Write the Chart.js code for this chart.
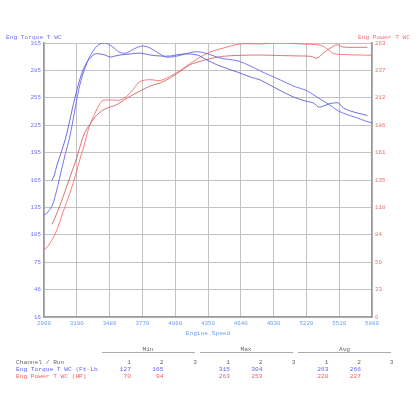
<!DOCTYPE html>
<html><head><meta charset="utf-8">
<script src="https://cdn.jsdelivr.net/npm/chart.js"></script>
<style>
html,body{margin:0;padding:0;background:#fff;}
#wrap{position:relative;width:416px;height:416px;overflow:hidden;background:#fff;}
#c{position:absolute;left:0;top:0;}
.t{position:absolute;font-family:"Liberation Mono",monospace;font-size:6.2px;line-height:7px;white-space:pre;}
.ln{position:absolute;height:0;border-top:1.5px solid #aaaaaa;}
</style></head>
<body><div id="wrap"><canvas id="c" width="416" height="416"></canvas></div>
<script>
// ---- data ----
const rpm1 = [2900,2935,2971,3006,3042,3086,3121,3157,3192,3228,3263,3298,3334,3369,3405,3440,3476,3520,3573,3626,3679,3732,3777,3839,3909,3980,4078,4149,4219,4281,4352,4458,4618,4724,4813,4901,4990,5105,5229,5326,5415,5503,5592,5672,5742,5800];
const torque1 = [127,130.6,137.1,151.3,169.9,192.8,209.1,231,255,274.6,287.7,298.6,306.3,311.7,314.4,315,313.4,309.5,304.6,304.1,307.4,310.6,311.7,309.5,304.1,299.7,300.8,303,305.2,305.2,303,298.6,295.3,289.9,284.4,279.5,274.6,268.1,262.6,255,248.4,240.8,236.4,233.1,229.9,227.7];
const rpm2 = [2970,2989,3015,3059,3086,3113,3148,3175,3210,3245,3281,3316,3352,3396,3440,3484,3529,3573,3662,3750,3839,3927,4016,4131,4255,4326,4432,4609,4724,4813,4946,5105,5211,5282,5326,5370,5415,5459,5503,5548,5610,5672,5760];
const torque2 = [165,169.9,181.9,198.2,209.1,222.2,241.9,256.1,272.4,285.5,294.3,299.7,303,303,301.9,299.7,300.8,301.9,303,304,301.9,300.8,300.8,303,301.9,297.5,291,283.3,277.9,274.6,265.9,256.1,251.7,249.5,245.2,246.2,248.4,249.5,249.5,244.1,240.8,238.6,235.9];
const prpm1 = [2900,2935,2980,3024,3068,3130,3192,3228,3254,3290,3316,3352,3387,3422,3467,3520,3573,3635,3697,3750,3839,3927,4016,4104,4193,4281,4370,4485,4636,4813,4990,5167,5344,5406,5459,5583,5698,5800];
const power1 = [70,73.6,81.1,91.4,105.3,123.1,144.5,158.5,166.9,181.8,189.3,197.7,205.2,209.4,209.8,209.8,209.8,213.6,221,227.1,228.8,228,231.9,237.3,243.9,249.9,254.6,258.3,262.1,262.1,263,262.1,260.9,257.4,253.2,252.1,251.8,251.5];
const prpm2 = [2971,3015,3068,3130,3192,3228,3263,3307,3343,3387,3431,3484,3546,3635,3750,3839,3927,4016,4104,4193,4281,4370,4485,4636,4813,4990,5167,5255,5317,5370,5432,5494,5539,5636,5760];
const power2 = [94,104.4,119.3,138,156.7,169.7,180,187.4,193,197.7,201,203.3,205.6,211.7,218.2,222.9,225.7,230.4,236.6,242.8,245.9,248.4,250.6,251.5,251.8,251.3,250.9,250.6,249,253.7,258.3,261.4,259.3,259,259];

const rpmTicks = ['2900','3190','3480','3770','4060','4350','4640','4930','5220','5510','5800'];
const torqueTicks = ['16','46','75','105','135','165','195','225','255','285','315'];
const powerTicks = ['0','33','59','84','110','135','161','186','212','237','263'];

const channelHeader = ['Channel / Run','1','2','3'];
const groups = ['Min','Max','Avg'];
const rowNames = ['Eng Torque T WC (Ft-Lb','Eng Power T WC (HP)'];
const torqueStats = {min:['127','165',''], max:['315','304',''], avg:['263','266','']};
const powerStats = {min:['70','94',''], max:['263','253',''], avg:['220','227','']};

const leftTitle = 'Eng Torque T WC';
const rightTitle = 'Eng Power T WC';
const xTitle = 'Engine Speed';

// ---- styles ----
const FONT = "'Liberation Mono', 'DejaVu Sans Mono', monospace";
const BLUE_TXT = '#6f6ff2';
const RED_TXT = '#f26f6f';
const XTXT = '#6a9ef2';
const GRID = '#c2c2c2';

const zip = (xs, ys) => xs.map((x, i) => ({x: x, y: ys[i]}));
const lineDs = (d, axis, color) => ({data: d, yAxisID: axis, borderColor: color, borderWidth: 1, pointRadius: 0, tension: 0.35, fill: false});

const titlesPlugin = {
  id: 'titles',
  afterDraw(chart) {
    const c = chart.ctx;
    c.save();
    c.font = '6.2px ' + FONT;
    c.textBaseline = 'middle';
    c.fillStyle = BLUE_TXT; c.textAlign = 'left';
    c.fillText(leftTitle, 6, 37);
    c.fillStyle = RED_TXT; c.textAlign = 'right';
    c.fillText(rightTitle, 410, 37);
    c.restore();
  }
};

function evenTicks(scale) {
  const n = 10, out = [];
  for (let i = 0; i <= n; i++) out.push({value: scale.min + (scale.max - scale.min) * i / n});
  scale.ticks = out;
}

new Chart(document.getElementById('c'), {
  type: 'line',
  data: {datasets: [
    lineDs(zip(rpm1, torque1), 'y', 'rgba(95,95,250,0.85)'),
    lineDs(zip(rpm2, torque2), 'y', 'rgba(85,85,215,0.85)'),
    lineDs(zip(prpm1, power1), 'y2', 'rgba(250,95,95,0.8)'),
    lineDs(zip(prpm2, power2), 'y2', 'rgba(205,85,85,0.8)')
  ]},
  options: {
    responsive: false, animation: false,
    layout: {padding: {left: 0, right: 0, top: 43, bottom: 79}},
    plugins: {legend: {display: false}, tooltip: {enabled: false}},
    scales: {
      x: {
        type: 'linear', min: 2900, max: 5800,
        afterBuildTicks: evenTicks,
        ticks: {callback: (v, i) => rpmTicks[i], color: XTXT, font: {family: FONT, size: 5.8}, padding: 3, maxRotation: 0, autoSkip: false},
        grid: {color: GRID, drawTicks: false, lineWidth: 1},
        border: {color: '#9a9a9a', width: 1.5},
        title: {display: true, text: xTitle, color: XTXT, font: {family: FONT, size: 6.2}, padding: {top: 1, bottom: 0}},
        afterFit(s) { s.height = 20; }
      },
      y: {
        type: 'linear', position: 'left', min: 16, max: 315,
        afterBuildTicks: evenTicks,
        ticks: {callback: (v, i) => torqueTicks[i], color: BLUE_TXT, font: {family: FONT, size: 5.8}, padding: 3},
        grid: {color: GRID, drawTicks: false, lineWidth: 1},
        border: {color: '#9a9a9a', width: 1.5},
        afterFit(s) { s.width = 44; }
      },
      y2: {
        type: 'linear', position: 'right', min: 7.4, max: 263,
        afterBuildTicks: evenTicks,
        ticks: {callback: (v, i) => powerTicks[i], color: RED_TXT, font: {family: FONT, size: 5.8}, padding: 3},
        grid: {drawOnChartArea: false, drawTicks: false},
        border: {color: '#9a9a9a', width: 1.5},
        afterFit(s) { s.width = 44; }
      }
    }
  },
  plugins: [titlesPlugin]
});

// ---- stats table ----
const wrap = document.getElementById('wrap');
function txt(s, x, y, color, align, w) {
  const d = document.createElement('div');
  d.className = 't';
  d.textContent = s;
  d.style.color = color;
  d.style.top = (y - 3.5) + 'px';
  if (align === 'right') { d.style.left = (x - 60) + 'px'; d.style.width = '60px'; d.style.textAlign = 'right'; }
  else if (align === 'center') { d.style.left = (x - w / 2) + 'px'; d.style.width = w + 'px'; d.style.textAlign = 'center'; }
  else { d.style.left = x + 'px'; }
  wrap.appendChild(d);
}
const groupLines = [[101.5, 194.5], [199.5, 292.5], [298, 391]];
const colRight = [[131, 163.5, 197], [230, 262.5, 295.5], [328.5, 361, 393.5]];
groups.forEach((g, i) => {
  const [a, b] = groupLines[i];
  txt(g, (a + b) / 2, 349.5, '#666666', 'center', 40);
  const l = document.createElement('div');
  l.className = 'ln';
  l.style.left = a + 'px'; l.style.width = (b - a) + 'px'; l.style.top = '351.5px';
  wrap.appendChild(l);
});
txt(channelHeader[0], 16, 362, '#666666', 'left');
colRight.forEach(cols => cols.forEach((x, j) => txt(channelHeader[j + 1], x, 362, '#666666', 'right')));
const rows = [[rowNames[0], torqueStats, '#5f5ff5', 369], [rowNames[1], powerStats, '#f55f5f', 376]];
rows.forEach(([name, st, col, y]) => {
  txt(name, 16, y, col, 'left');
  ['min', 'max', 'avg'].forEach((k, gi) => st[k].forEach((v, j) => { if (v) txt(v, colRight[gi][j], y, col, 'right'); }));
});
</script>
</body></html>
